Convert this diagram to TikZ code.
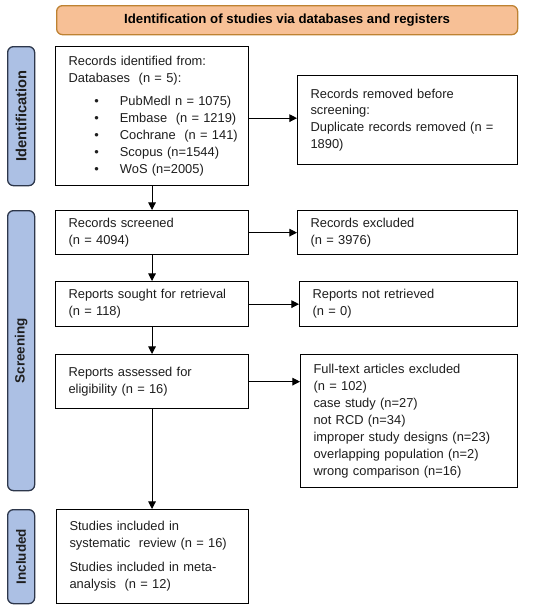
\documentclass[tikz,border=0pt]{standalone}
\usepackage{fontspec}
\setmainfont{Liberation Sans}
\usetikzlibrary{positioning,calc}
\usetikzlibrary{arrows.meta}
\definecolor{BannerOrange}{RGB}{247,192,150}
\definecolor{BannerEdge}{RGB}{190,130,50}
\definecolor{PhaseBlue}{RGB}{172,192,228}
\definecolor{PhaseEdge}{RGB}{45,55,75}
\definecolor{TextGray}{RGB}{30,30,30}
\tikzset{
  rec/.style={draw=black,line width=1.1pt,fill=white,anchor=north west,inner xsep=11pt,
    align=left,font=\fontsize{11}{14.5}\selectfont,text=TextGray},
  banner/.style={draw=BannerEdge,fill=BannerOrange,line width=1.1pt,rounded corners=5pt,
    anchor=north west,font=\bfseries\fontsize{11.3}{13}\selectfont},
  phase/.style={draw=PhaseEdge,fill=PhaseBlue,line width=1.1pt,rounded corners=5pt,
    anchor=north west,minimum width=27*0.03cm,inner sep=0pt},
  phaselab/.style={rotate=90,font=\bfseries\fontsize{11.5}{13}\selectfont,text=TextGray},
  flow/.style={draw=black,line width=0.8pt,-{Triangle[length=6.5pt,width=6.5pt]}},
}
\newcommand{\dbitem}[1]{\mbox{\hspace*{22pt}\textbullet\hspace{18pt}#1}}

\begin{document}
\begin{tikzpicture}[x=0.03cm,y=-0.03cm]
\useasboundingbox (0,0) rectangle (550,609);
% banner and phase labels
\node[banner,minimum width=461*0.03cm,minimum height=29*0.03cm] (top) at (56,5)
  {Identification of studies via databases and registers};
\node[phase,minimum height=139*0.03cm] (pid) at (7,46) {};
\node[phaselab,font=\bfseries\fontsize{12.5}{13}\selectfont] at (pid.center) {Identification};
\node[phase,minimum height=280*0.03cm] (pscr) at (7,210) {};
\node[phaselab] at (pscr.center) {Screening};
\node[phase,minimum height=94*0.03cm] (pinc) at (7,509) {};
\node[phaselab] at (pinc.center) {Included};
% left column
\node[rec,text width=167*0.03cm,minimum height=139*0.03cm] (ident) at (55,46)
  {Records identified from:\\Databases~ (n = 5):\\[5pt]
   \dbitem{PubMedl n = 1075)}\\\dbitem{Embase~ (n = 1219)}\\\dbitem{Cochrane~ (n = 141)}\\
   \dbitem{Scopus (n=1544)}\\\dbitem{WoS (n=2005)}};
\node[rec,text width=167*0.03cm,minimum height=44*0.03cm] (screened) at (55,210)
  {Records screened\\(n = 4094)};
\node[rec,text width=167*0.03cm,minimum height=45*0.03cm] (sought) at (55,281)
  {Reports sought for retrieval\\(n = 118)};
\node[rec,text width=167*0.03cm,minimum height=54*0.03cm] (assessed) at (55,354)
  {Reports assessed for\\eligibility (n = 16)};
\node[rec,text width=166*0.03cm,minimum height=94*0.03cm] (included) at (56,509)
  {Studies included in\\systematic~ review (n = 16)\\[6pt]Studies included in meta-\\analysis~ (n = 12)};
% right column
\node[rec,text width=194*0.03cm,minimum height=89*0.03cm] (removed) at (297,75)
  {Records removed before\\screening:\\Duplicate records removed (n =\\1890)};
\node[rec,text width=194*0.03cm,minimum height=44*0.03cm] (excluded) at (297,210)
  {Records excluded\\(n = 3976)};
\node[rec,text width=192*0.03cm,minimum height=45*0.03cm] (notret) at (299,281)
  {Reports not retrieved\\(n = 0)};
\node[rec,text width=191*0.03cm,minimum height=133*0.03cm] (fulltext) at (300,354)
  {Full-text articles excluded\\(n = 102)\\case study (n=27)\\not RCD (n=34)\\
   improper study designs (n=23)\\overlapping population (n=2)\\wrong comparison (n=16)};
% connectors
\coordinate (identout) at ($(ident.east)+(0,2)$);
\draw[flow] (ident.south) -- (screened.north);
\draw[flow] (screened.south) -- (sought.north);
\draw[flow] (sought.south) -- (assessed.north);
\draw[flow] (assessed.south) -- (included.north -| assessed.south);
\draw[flow] (identout) -- (identout -| removed.west);
\draw[flow] (screened.east) -- (excluded.west);
\draw[flow] (sought.east) -- (notret.west);
\draw[flow] (assessed.east) -- (assessed.east -| fulltext.west);
\end{tikzpicture}
\end{document}
